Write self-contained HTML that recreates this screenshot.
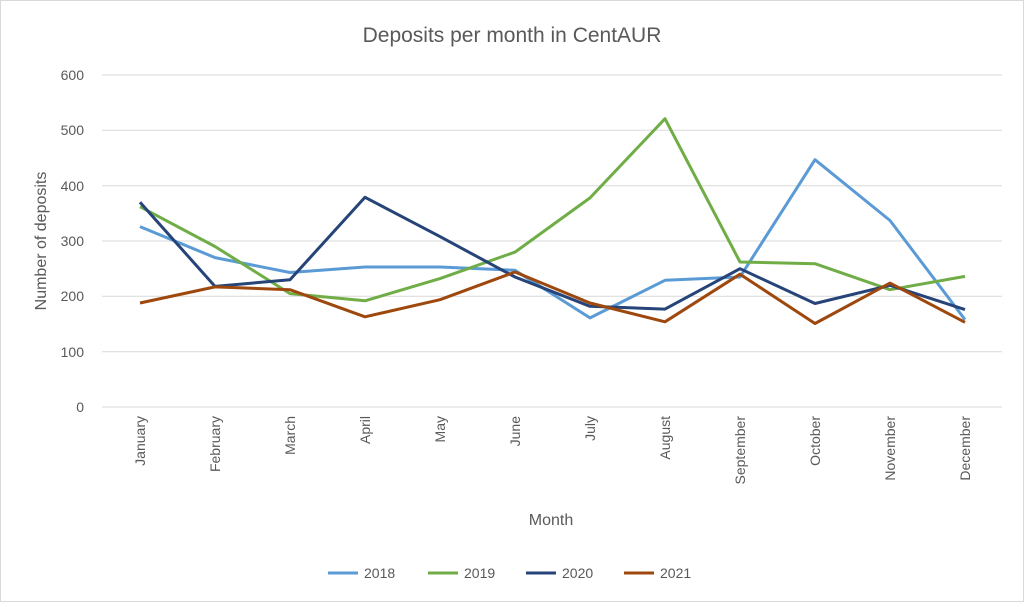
<!DOCTYPE html>
<html><head><style>body{margin:0;background:#fff}</style></head><body>
<svg width="1024" height="602" xmlns="http://www.w3.org/2000/svg" font-family="Liberation Sans, sans-serif">
<rect x="0.5" y="0.5" width="1023" height="601" fill="#fff" stroke="#d9d9d9"/>
<text x="512" y="42" text-anchor="middle" font-size="21" fill="#595959">Deposits per month in CentAUR</text>
<g stroke="#d9d9d9" stroke-width="1">
<line x1="102" x2="1002" y1="75" y2="75"/><line x1="102" x2="1002" y1="130.3" y2="130.3"/>
<line x1="102" x2="1002" y1="185.7" y2="185.7"/><line x1="102" x2="1002" y1="241" y2="241"/>
<line x1="102" x2="1002" y1="296.3" y2="296.3"/><line x1="102" x2="1002" y1="351.7" y2="351.7"/>
<line x1="102" x2="1002" y1="407" y2="407"/></g>
<g font-size="14" fill="#595959" text-anchor="end">
<text x="84" y="80">600</text><text x="84" y="135">500</text><text x="84" y="191">400</text>
<text x="84" y="246">300</text><text x="84" y="301">200</text><text x="84" y="357">100</text><text x="84" y="412">0</text></g>
<g font-size="14" fill="#595959" text-anchor="end">
<text transform="translate(145,416) rotate(-90)">January</text>
<text transform="translate(220,416) rotate(-90)">February</text>
<text transform="translate(295,416) rotate(-90)">March</text>
<text transform="translate(370,416) rotate(-90)">April</text>
<text transform="translate(445,416) rotate(-90)">May</text>
<text transform="translate(520,416) rotate(-90)">June</text>
<text transform="translate(595,416) rotate(-90)">July</text>
<text transform="translate(670,416) rotate(-90)">August</text>
<text transform="translate(745,416) rotate(-90)">September</text>
<text transform="translate(820,416) rotate(-90)">October</text>
<text transform="translate(895,416) rotate(-90)">November</text>
<text transform="translate(970,416) rotate(-90)">December</text></g>
<text transform="translate(46,241) rotate(-90)" text-anchor="middle" font-size="16" fill="#595959">Number of deposits</text>
<text x="551" y="525" text-anchor="middle" font-size="16" fill="#595959">Month</text>
<g fill="none" stroke-width="3" stroke-linejoin="round">
<polyline stroke="#5B9BD5" points="140,226.6 215,257.6 290,272.5 365,267 440,267 515,270.3 590,317.9 665,280.3 740,277 815,159.7 890,220.5 965,319.6"/>
<polyline stroke="#70AD47" points="140,206.7 215,246.5 290,293.6 365,300.8 440,278.6 515,252.1 590,197.9 665,118.7 740,262 815,263.7 890,289.7 965,276.4"/>
<polyline stroke="#264478" points="140,202.3 215,286.4 290,279.7 365,197.3 440,236.6 515,277 590,306.3 665,309.1 740,268.7 815,303.5 890,285.3 965,309.6"/>
<polyline stroke="#9E480E" points="140,303 215,286.9 290,289.7 365,316.8 440,299.7 515,272 590,303 665,321.8 740,274.2 815,323.5 890,283.1 965,322.3"/>
</g>
<g font-size="14" fill="#595959">
<line x1="328" x2="358" y1="573" y2="573" stroke="#5B9BD5" stroke-width="3"/><text x="364" y="578">2018</text>
<line x1="428" x2="458" y1="573" y2="573" stroke="#70AD47" stroke-width="3"/><text x="464" y="578">2019</text>
<line x1="526" x2="556" y1="573" y2="573" stroke="#264478" stroke-width="3"/><text x="562" y="578">2020</text>
<line x1="624" x2="654" y1="573" y2="573" stroke="#9E480E" stroke-width="3"/><text x="660" y="578">2021</text>
</g>
</svg>
</body></html>
